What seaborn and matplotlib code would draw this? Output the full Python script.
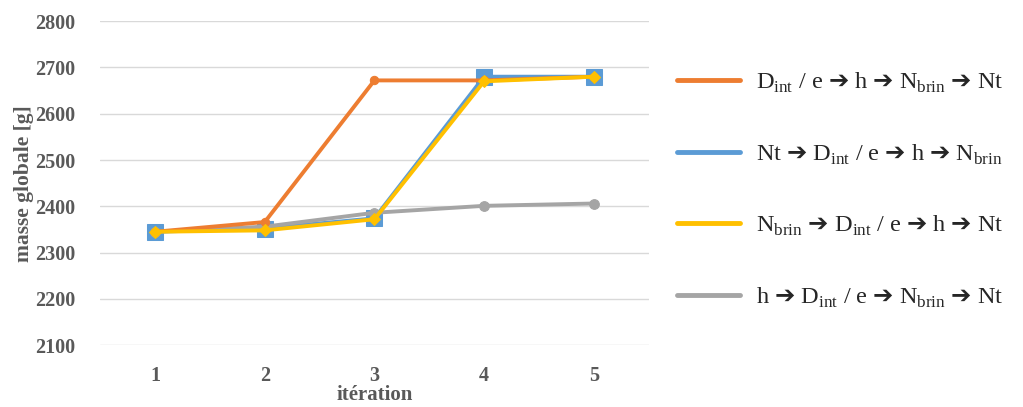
import numpy as np
import pandas as pd
import matplotlib
matplotlib.use("Agg")
import matplotlib.pyplot as plt
import seaborn as sns
from matplotlib.lines import Line2D

# data
iterations = [1, 2, 3, 4, 5]
orange_vals = [2345, 2366, 2672, 2672, 2680]
blue_vals = [2345, 2352, 2374, 2680, 2680]
yellow_vals = [2345, 2348, 2372, 2670, 2680]
gray_vals = [2345, 2356, 2386, 2401, 2406]

A = r"$\mathbf{➔}$"
labels = [
    r"D$_{\mathrm{int}}$ / e " + A + " h " + A + r" N$_{\mathrm{brin}}$ " + A + " Nt",
    "Nt " + A + r" D$_{\mathrm{int}}$ / e " + A + " h " + A + r" N$_{\mathrm{brin}}$",
    r"N$_{\mathrm{brin}}$ " + A + r" D$_{\mathrm{int}}$ / e " + A + " h " + A + " Nt",
    "h " + A + r" D$_{\mathrm{int}}$ / e " + A + r" N$_{\mathrm{brin}}$ " + A + " Nt",
]
colors = ["#ED7D31", "#5B9BD5", "#FFC000", "#A5A5A5"]
markers = ["o", "s", "D", "o"]
msizes = [6, 11, 6, 7]
series = [orange_vals, blue_vals, yellow_vals, gray_vals]

sns.set_style("white")
plt.rcParams["font.family"] = ["Liberation Serif", "DejaVu Sans"]
plt.rcParams["mathtext.fontset"] = "custom"
plt.rcParams["mathtext.rm"] = "Liberation Serif"
plt.rcParams["mathtext.bf"] = "DejaVu Sans:bold"

fig = plt.figure(figsize=(10.23, 4.07), dpi=100)
ax = fig.add_axes([0.098, 0.152, 0.536, 0.796])

x_pos = np.arange(len(iterations))
# draw order: blue, gray, orange, yellow (yellow on top)
for i in [1, 3, 0, 2]:
    df = pd.DataFrame({"x": x_pos, "y": series[i]})
    sns.lineplot(data=df, x="x", y="y", ax=ax, color=colors[i], linewidth=2.8,
                 marker=markers[i], markersize=msizes[i],
                 markeredgecolor=colors[i], markerfacecolor=colors[i])

ax.set_xlim(-0.5, 4.5)
ax.set_ylim(2100, 2800)
ax.set_yticks(np.arange(2100, 2801, 100))
ax.set_xticks(x_pos)
ax.set_xticklabels([str(v) for v in iterations])
ax.yaxis.grid(True, color="#D9D9D9", linewidth=1)
ax.xaxis.grid(False)
for s in ax.spines.values():
    s.set_visible(False)
ax.tick_params(axis="both", length=0, labelsize=14.5, colors="#595959")
ax.tick_params(axis="x", pad=15)
ax.tick_params(axis="y", pad=18)
for t in ax.get_xticklabels() + ax.get_yticklabels():
    t.set_fontweight("bold")

ax.set_xlabel("itération", fontsize=15, fontweight="bold", color="#595959", labelpad=-1)
ax.set_ylabel("masse globale [g]", fontsize=15.5, fontweight="bold", color="#595959", labelpad=1)

handles = [Line2D([0], [0], color=c, linewidth=3.5) for c in colors]
fig.legend(handles, labels, loc="upper left", bbox_to_anchor=(0.64, 0.88),
           frameon=False, fontsize=17.5, handlelength=2.6, handletextpad=0.65,
           labelspacing=1.95)

fig.savefig("out.png", dpi=100)
